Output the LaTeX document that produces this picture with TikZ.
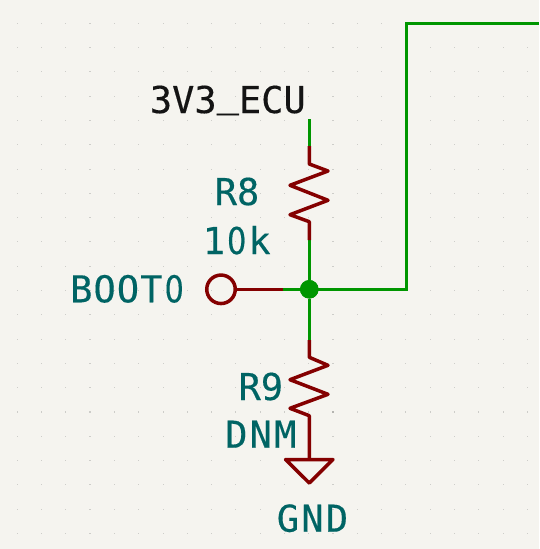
\documentclass[tikz,border=0pt]{standalone}
\usepackage{fontspec}
\setmainfont[FakeBold=0.35]{DejaVu Sans Mono}
\newfontfamily\widefont[FakeBold=0.35,LetterSpace=6]{DejaVu Sans Mono}
\newfontfamily\midfont[FakeBold=0.35,LetterSpace=3]{DejaVu Sans Mono}
\newfontfamily\zerofont[FakeStretch=0.82,FakeBold=0.35]{DejaVu Sans}
\newcommand{\zr}{\makebox[0.63em][c]{\zerofont 0}}
\definecolor{bgc}{HTML}{F5F4EF}
\definecolor{wirec}{HTML}{009600}
\definecolor{pinc}{HTML}{840000}
\definecolor{labc}{HTML}{006464}
\definecolor{netc}{HTML}{141414}
\definecolor{dotc}{HTML}{CDCDC9}
\definecolor{dotm}{HTML}{B4B4B0}
\tikzset{
  wire/.style={draw=wirec,line width=3.5pt},
  pin/.style={draw=pinc,line width=3.5pt,line join=round},
  lab/.style={text=labc,font=\fontsize{37}{37}\selectfont,inner sep=0pt,anchor=base},
  widelab/.style={lab,font=\fontsize{37}{37}\selectfont\widefont},
  midlab/.style={lab,font=\fontsize{37}{37}\selectfont\midfont},
  netlab/.style={lab,text=netc},
  junc/.style={circle,fill=wirec,inner sep=0pt,minimum size=18.5pt},
  pinend/.style={circle,draw=pinc,line width=3.5pt,inner sep=0pt,minimum size=28.5pt}
}
\begin{document}
\begin{tikzpicture}[x=1pt,y=-1pt]
\useasboundingbox (0,0) rectangle (539,549);
\fill[bgc] (0,0) rectangle (539,549);
\foreach \i in {0,...,22}{\foreach \j in {0,...,22}{
  \pgfmathsetmacro{\dw}{(\i==4||\i==14)?2:1}
  \pgfmathsetmacro{\dh}{(\j==17)?2:1}
  \pgfmathsetmacro{\dx}{-7+24.29*\i}
  \pgfmathsetmacro{\dy}{-1+24.29*\j}
  \fill[dotc] ({\dx-\dw/2},{\dy-\dh/2}) rectangle ++(\dw,\dh);
}}
\fill[dotm] (331.5,410.7) rectangle ++(2.4,2.4);
% named points
\coordinate (top) at (309.3,119);
\coordinate (r8a) at (309.3,146);
\coordinate (r8b) at (309.3,164);
\coordinate (r8c) at (309.3,221.7);
\coordinate (r8d) at (309.3,240);
\node[junc] (j) at (309.3,289.3) {};
\coordinate (r9a) at (309.3,340);
\coordinate (r9b) at (309.3,357.3);
\coordinate (r9c) at (309.3,415.7);
\coordinate (gnd) at (309.3,459.5);
\coordinate (pinw) at (283,289.3);
\node[pinend] (boot) at (221,289.3) {};
\coordinate (c1) at (406.5,289.3);
\coordinate (c2) at (406.5,23.3);
\coordinate (c3) at (539,23.3);
% wires
\draw[wire] (top) -- (r8a);
\draw[wire] (r8d) -- (j);
\draw[wire] (j) -- (r9a);
\draw[wire,line join=miter] (pinw) -- (c1) -- (c2) -- (c3);
\node[junc] at (j) {};
% pins
\draw[pin] (boot) -- (pinw);
\draw[pin] (r8a) -- (r8b) -- (328,171) -- (290,185.3) -- (328,200.3) -- (290,214.7) -- (r8c) -- (r8d);
\draw[pin] (r9a) -- (r9b) -- (328,365.3) -- (290,379.7) -- (328,394.3) -- (290,408.3) -- (r9c) -- (gnd);
\draw[pin] (285.5,459.5) -- (333,459.5) -- (309.3,483) -- cycle;
% labels
\node[netlab] (n3v3) at (227.8,113) {3V3\raisebox{6.5pt}{\_}ECU};
\node[lab] (lr8) at (237,205) {R8};
\node[lab] (v10k) at (236.7,254) {1\zr k};
\node[midlab] (lboot) at (128,302.3) {BOOT\zr};
\node[lab] (lr9) at (260.8,400) {R9};
\node[widelab] (ldnm) at (260.8,447.7) {DNM};
\node[widelab] (lgnd) at (312.5,531.7) {GND};
\end{tikzpicture}
\end{document}
